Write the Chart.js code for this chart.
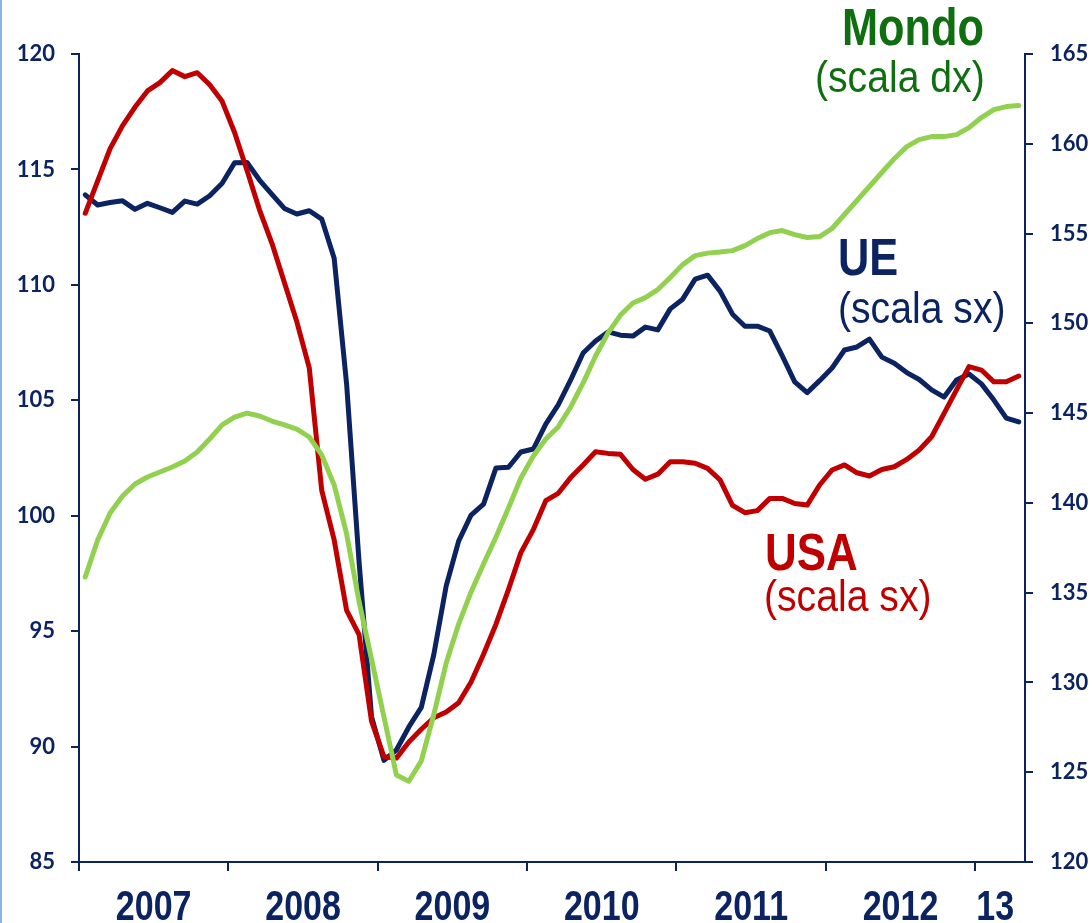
<!DOCTYPE html>
<html>
<head>
<meta charset="utf-8">
<script src="https://cdn.jsdelivr.net/npm/chart.js@4.4.1/dist/chart.umd.min.js"></script>
<style>
  html, body { margin: 0; padding: 0; background: #fff; }
  #wrap { position: relative; width: 1092px; height: 923px; }
  #edge { position: absolute; left: 0; top: 0; width: 2px; height: 923px; background: #8cb4e2; }
</style>
</head>
<body>
<div id="wrap">
  <canvas id="chart" width="1092" height="923"></canvas>
  <div id="edge"></div>
</div>
<script>
// monthly data, Jan 2007 - Apr 2013
const yearLabels = ['2007', '2008', '2009', '2010', '2011', '2012', '13'];
const yearStarts = [0, 12, 24, 36, 48, 60, 72];   // month index where each year begins
const totalMonths = 76;

// UE (left scale)
const ue = [
  113.9, 113.46, 113.57, 113.64, 113.27, 113.53, 113.34, 113.14, 113.63, 113.5, 113.86, 114.4,
  115.29, 115.3, 114.54, 113.92, 113.31, 113.07, 113.21, 112.85, 111.15, 105.7, 98.0, 91.3,
  89.4, 89.85, 90.85, 91.7, 93.97, 96.96, 98.9, 100.03, 100.5, 102.07, 102.1, 102.76,
  102.89, 103.97, 104.8, 105.88, 107.05, 107.57, 107.96, 107.82, 107.78, 108.17, 108.05, 108.96,
  109.38, 110.25, 110.42, 109.73, 108.73, 108.21, 108.21, 108.0, 106.92, 105.8, 105.33, 105.85,
  106.4, 107.18, 107.31, 107.65, 106.87, 106.6, 106.2, 105.9, 105.45, 105.14, 105.88, 106.14,
  105.71, 105.01, 104.23, 104.06
];

// USA (left scale)
const usa = [
  113.1, 114.5, 115.9, 116.9, 117.7, 118.4, 118.76, 119.28, 119.02, 119.19, 118.67, 117.95,
  116.6, 114.95, 113.25, 111.8, 110.1, 108.4, 106.4, 101.1, 98.95, 95.9, 94.85, 91.1,
  89.56, 89.5, 90.2, 90.75, 91.25, 91.5, 91.9, 92.8, 94.0, 95.3, 96.8, 98.4,
  99.4, 100.65, 100.97, 101.65, 102.2, 102.77, 102.7, 102.66, 102.0, 101.58, 101.8, 102.34,
  102.34, 102.27, 102.05, 101.55, 100.45, 100.13, 100.22, 100.75, 100.75, 100.53, 100.46, 101.33,
  101.98, 102.2, 101.86, 101.72, 102.0, 102.12, 102.44, 102.85, 103.42, 104.43, 105.45, 106.46,
  106.31, 105.8, 105.8, 106.05
];

// Mondo (right scale)
const mondo = [
  135.87, 137.93, 139.44, 140.38, 141.05, 141.44, 141.72, 142.0, 142.33, 142.83, 143.56, 144.34,
  144.78, 145.0, 144.84, 144.56, 144.34, 144.11, 143.67, 142.67, 141.0, 138.27, 134.5, 131.3,
  128.07, 124.85, 124.5, 125.63, 128.2, 131.08, 133.25, 135.04, 136.6, 138.1, 139.71, 141.39,
  142.61, 143.56, 144.23, 145.34, 146.68, 148.18, 149.46, 150.46, 151.13, 151.43, 151.88, 152.55,
  153.27, 153.77, 153.91, 153.97, 154.05, 154.33, 154.72, 155.05, 155.17, 154.94, 154.78, 154.83,
  155.28, 156.06, 156.84, 157.62, 158.4, 159.17, 159.84, 160.23, 160.4, 160.4, 160.51, 160.9,
  161.46, 161.9, 162.07, 162.13
];

const navy = '#0b2360';
const red = '#c00000';
const green = '#92d050';
const darkGreen = '#0f6e0f';
const sans = '"Liberation Sans", Arial, sans-serif';

// centre of each year's span, used for the year labels
const labelPos = [6, 18, 30, 42, 54, 66, 73.6];

function toPoints(arr) {
  return arr.map((v, i) => ({ x: i + 0.5, y: v }));
}

// draw text squeezed horizontally (no narrow font installed)
function narrowText(ctx, text, x, y, font, color, sx, align) {
  ctx.save();
  ctx.font = font;
  ctx.fillStyle = color;
  ctx.textAlign = align || 'left';
  ctx.textBaseline = 'alphabetic';
  ctx.translate(x, y);
  ctx.scale(sx, 1);
  ctx.fillText(text, 0, 0);
  ctx.restore();
}

// text notes next to the lines
const notes = [
  { text: 'Mondo', font: 'bold 51px ' + sans, color: darkGreen, x: 842, y: 45, sx: 0.85 },
  { text: '(scala dx)', font: '44px ' + sans, color: darkGreen, x: 815, y: 92, sx: 0.89 },
  { text: 'UE', font: 'bold 51px ' + sans, color: navy, x: 838, y: 275, sx: 0.85 },
  { text: '(scala sx)', font: '44px ' + sans, color: navy, x: 838, y: 323, sx: 0.89 },
  { text: 'USA', font: 'bold 51px ' + sans, color: red, x: 765, y: 570, sx: 0.86 },
  { text: '(scala sx)', font: '44px ' + sans, color: red, x: 764, y: 611, sx: 0.89 }
];

const textPlugin = {
  id: 'texts',
  afterDraw(chart) {
    const ctx = chart.ctx;
    const xs = chart.scales.x;
    yearLabels.forEach((lab, i) => {
      narrowText(ctx, lab, xs.getPixelForValue(labelPos[i]), 920,
        'bold 42px ' + sans, navy, 0.81, 'center');
    });
    notes.forEach(n => narrowText(ctx, n.text, n.x, n.y, n.font, n.color, n.sx));
  }
};

const tickFont = { family: 'Lato', size: 22, weight: 'bold' };

new Chart(document.getElementById('chart'), {
  type: 'line',
  data: {
    datasets: [
      { label: 'Mondo', data: toPoints(mondo), yAxisID: 'y1', borderColor: green, borderWidth: 5 },
      { label: 'USA', data: toPoints(usa), yAxisID: 'y', borderColor: red, borderWidth: 5 },
      { label: 'UE', data: toPoints(ue), yAxisID: 'y', borderColor: navy, borderWidth: 5 }
    ]
  },
  options: {
    responsive: false,
    animation: false,
    devicePixelRatio: 1,
    layout: { padding: { top: 54, left: 0, right: 0, bottom: 0 } },
    elements: {
      point: { radius: 0 },
      line: { tension: 0, borderJoinStyle: 'round', borderCapStyle: 'round' }
    },
    plugins: {
      legend: { display: false },
      tooltip: { enabled: false }
    },
    scales: {
      x: {
        type: 'linear',
        min: 0,
        max: totalMonths,
        afterBuildTicks: scale => {
          scale.ticks = yearStarts.map(v => ({ value: v }));
        },
        afterFit: scale => { scale.height = 61; },
        grid: { drawOnChartArea: false, tickLength: 9, lineWidth: 2, tickColor: navy },
        border: { display: true, color: navy, width: 2 },
        ticks: {
          autoSkip: false,
          maxRotation: 0,
          callback: () => ''
        }
      },
      y: {
        position: 'left',
        min: 85,
        max: 120,
        afterFit: scale => { scale.width = 79; },
        grid: { drawOnChartArea: false, tickLength: 8, lineWidth: 2, tickColor: navy },
        border: { display: true, color: navy, width: 2 },
        ticks: { stepSize: 5, padding: 16, color: navy, font: tickFont }
      },
      y1: {
        position: 'right',
        min: 120,
        max: 165,
        afterFit: scale => { scale.width = 67; },
        grid: { drawOnChartArea: false, tickLength: 8, lineWidth: 2, tickColor: navy },
        border: { display: true, color: navy, width: 2 },
        ticks: { stepSize: 5, padding: 17, color: navy, font: tickFont }
      }
    }
  },
  plugins: [textPlugin]
});
</script>
</body>
</html>
